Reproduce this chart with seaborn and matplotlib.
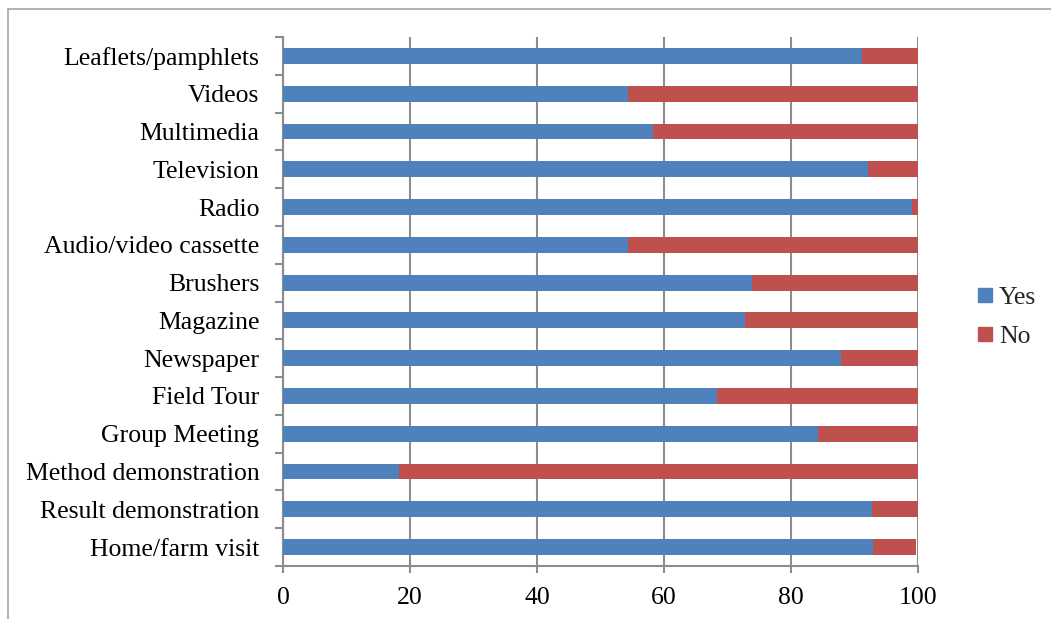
import matplotlib
matplotlib.use("Agg")
import matplotlib.pyplot as plt
import seaborn as sns
import numpy as np
import pandas as pd
from matplotlib.lines import Line2D

categories = ["Leaflets/pamphlets", "Videos", "Multimedia", "Television", "Radio",
              "Audio/video cassette", "Brushers", "Magazine", "Newspaper", "Field Tour",
              "Group Meeting", "Method demonstration", "Result demonstration", "Home/farm visit"]
yes_values = [91.2, 54.3, 58.2, 92.2, 99.0, 54.3, 73.8, 72.8, 87.8, 68.3, 84.3, 18.2, 92.7, 92.9]
no_values = [8.8, 45.7, 41.8, 7.8, 1.0, 45.7, 26.2, 27.2, 12.2, 31.7, 15.7, 81.8, 7.3, 6.8]
series_labels = ["Yes", "No"]
x_ticks = [0, 20, 40, 60, 80, 100]

BLUE = "#4F81BD"
RED = "#C0504D"
GRID = "#8C8C8C"

sns.set_style("white")
plt.rcParams['font.family'] = ['Liberation Serif', 'DejaVu Serif']

df = pd.DataFrame({"category": categories, "yes": yes_values, "no": no_values})
df["total"] = df["yes"] + df["no"]

fig = plt.figure(figsize=(10.51, 6.19), dpi=100)
ax = fig.add_axes([283/1051, 1 - 566/619, (918-283)/1051, (566-37)/619])

sns.barplot(data=df, x="total", y="category", color=RED, orient="h", width=0.42,
            ax=ax, saturation=1, zorder=3, linewidth=0)
sns.barplot(data=df, x="yes", y="category", color=BLUE, orient="h", width=0.42,
            ax=ax, saturation=1, zorder=4, linewidth=0)

ax.set_xlim(0, 100)
ax.set_ylim(len(categories) - 0.5, -0.5)
ax.set_xlabel("")
ax.set_ylabel("")
ax.set_xticks(x_ticks)
ax.set_xticklabels([str(t) for t in x_ticks])

ax.xaxis.grid(True, color=GRID, linewidth=1.5, zorder=0)
ax.set_axisbelow(True)

for s in ["top", "right"]:
    ax.spines[s].set_visible(False)
for s in ["left", "bottom"]:
    ax.spines[s].set_color(GRID)
    ax.spines[s].set_linewidth(1.5)

ax.tick_params(axis="y", which="major", length=0, pad=17, labelsize=18.5, labelcolor="black")
ax.set_yticks(np.arange(-0.5, len(categories), 1.0), minor=True)
ax.tick_params(axis="y", which="minor", length=6, width=1.5, color=GRID, direction="out", left=True)
ax.tick_params(axis="x", which="major", length=5, width=1.5, color=GRID, direction="out",
               pad=10, labelsize=18.5, labelcolor="black", bottom=True)

handles = [Line2D([0], [0], marker="s", linestyle="none", markersize=10,
                  markerfacecolor=c, markeredgecolor=c) for c in (BLUE, RED)]
fig.legend(handles, series_labels, loc="center left",
           bbox_to_anchor=(976/1051, 1 - 317/619), frameon=False, fontsize=18.5,
           handletextpad=0.2, labelspacing=0.62, handlelength=0.7, borderpad=0,
           borderaxespad=0)

# outer chart frame (top and left edges visible)
fig.add_artist(Line2D([8/1051, 8/1051], [0, 1 - 9/619], transform=fig.transFigure,
                      color="#A6A6A6", linewidth=1.2))
fig.add_artist(Line2D([8/1051, 1], [1 - 9/619, 1 - 9/619], transform=fig.transFigure,
                      color="#A6A6A6", linewidth=1.2))

fig.savefig("out.png", dpi=100, facecolor="white")
